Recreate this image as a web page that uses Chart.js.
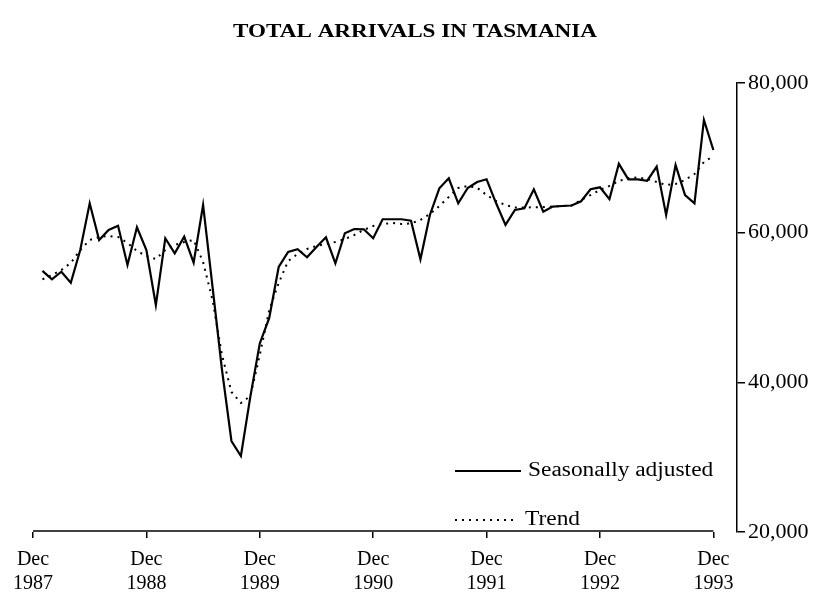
<!DOCTYPE html>
<html><head><meta charset="utf-8">
<script src="https://cdn.jsdelivr.net/npm/chart.js@4.4.0/dist/chart.umd.min.js"></script>
<style>html,body{margin:0;padding:0;background:#fff}#wrap{width:820px;height:598px}</style>
</head><body><div id="wrap"><canvas id="c" width="820" height="598"></canvas></div>
<script>
const titleText = 'TOTAL ARRIVALS IN TASMANIA';
const seriesNames = ['Seasonally adjusted', 'Trend'];
// month index counted from Dec 1987 (= 0); first observation is Jan 1988
const firstMonth = 1;
const seasonallyAdjusted = [
  54900,53770,54780,53310,57680,63920,59020,60360,60930,55680,60720,57680,
  50330,59250,57240,59460,55990,63700,52740,41650,32160,30160,38080,45200,
  48600,55410,57420,57780,56710,58090,59380,55910,59920,60490,60450,59250,
  61790,61790,61790,61600,56440,62360,65930,67270,63920,65970,66770,67130,
  63960,61030,63030,63260,65800,62800,63480,63560,63630,64200,65800,66060,
  64480,69200,67130,67130,66940,68820,62360,69040,65030,63920,75060,71050
];
const trend = [
  53770,54340,55010,55950,57680,59020,59420,59550,59420,58620,57550,56880,
  56480,57680,58350,58750,59020,56080,51000,43650,38710,37240,38170,43650,
  49670,53270,56210,57150,57820,58220,58490,58760,59150,59690,60360,60890,
  61160,61290,61160,61230,61690,62490,63560,64770,65970,66240,66000,65030,
  64230,63700,63360,63360,63390,63430,63500,63560,63630,64370,65030,65700,
  66240,66900,67300,67370,67170,66770,66370,66500,67040,67840,69440,70250
];
const tickMonths = [0, 12, 24, 36, 48, 60, 72];
const tickMonthName = 'Dec';
const tickYears = ['1987', '1988', '1989', '1990', '1991', '1992', '1993'];
const yTicks = [20000, 40000, 60000, 80000];

const SERIF = '"Liberation Serif","Times New Roman",serif';
const toPoints = arr => arr.map((v, i) => ({ x: firstMonth + i, y: v }));

const decor = {
  id: 'decor',
  afterDraw(chart) {
    const ctx = chart.ctx;
    const xs = chart.scales.x;
    const area = chart.chartArea;
    ctx.save();
    // x axis line between first and last tick
    ctx.strokeStyle = '#000';
    ctx.lineWidth = 1.5;
    ctx.beginPath();
    ctx.moveTo(xs.getPixelForValue(tickMonths[0]), area.bottom - 1);
    ctx.lineTo(xs.getPixelForValue(tickMonths[tickMonths.length - 1]), area.bottom - 1);
    ctx.stroke();

    // title
    ctx.fillStyle = '#000';
    ctx.font = 'bold 19px ' + SERIF;
    ctx.textAlign = 'center';
    ctx.textBaseline = 'middle';
    let w = ctx.measureText(titleText).width;
    ctx.save();
    ctx.translate(415, 32);
    ctx.scale(364 / w, 1);
    ctx.fillText(titleText, 0, 0);
    ctx.restore();

    // legend
    const rows = [471, 520];
    chart.data.datasets.forEach((ds, i) => {
      const y = rows[i];
      ctx.save();
      ctx.strokeStyle = ds.borderColor;
      ctx.lineWidth = ds.borderWidth;
      ctx.setLineDash(ds.borderDash || []);
      ctx.beginPath();
      ctx.moveTo(455, y);
      ctx.lineTo(i === 0 ? 521 : 513, y);
      ctx.stroke();
      ctx.restore();
      ctx.save();
      ctx.font = '20px ' + SERIF;
      ctx.textAlign = 'left';
      ctx.textBaseline = 'middle';
      ctx.translate(i === 0 ? 528 : 525, y);
      ctx.scale(1.17, 1);
      ctx.fillText(ds.label, 0, 0);
      ctx.restore();
    });
    ctx.restore();
  }
};

new Chart(document.getElementById('c'), {
  type: 'line',
  data: {
    datasets: [
      { label: seriesNames[0], data: toPoints(seasonallyAdjusted), borderColor: '#000', borderWidth: 2.2,
        pointRadius: 0, tension: 0, fill: false },
      { label: seriesNames[1], data: toPoints(trend), borderColor: '#000', borderWidth: 2,
        borderDash: [2, 5], pointRadius: 0, tension: 0, fill: false }
    ]
  },
  options: {
    responsive: false,
    animation: false,
    devicePixelRatio: 1,
    layout: { padding: { top: 83, left: 33, right: 0, bottom: 0 } },
    plugins: { legend: { display: false }, title: { display: false }, tooltip: { enabled: false } },
    scales: {
      x: {
        type: 'linear', min: 0, max: 74.5,
        afterBuildTicks: s => { s.ticks = tickMonths.map(v => ({ value: v })); },
        afterFit: s => { s.height = 66; },
        grid: { drawOnChartArea: false, drawTicks: true, tickLength: 6, color: '#000', lineWidth: 1.5 },
        border: { display: false },
        ticks: {
          padding: 10, color: '#000', maxRotation: 0, autoSkip: false,
          font: { family: SERIF, size: 20, lineHeight: 1.2 },
          callback: v => { const i = tickMonths.indexOf(v); return i < 0 ? '' : [tickMonthName, tickYears[i]]; }
        }
      },
      y: {
        position: 'right', min: 20000, max: 80000,
        afterBuildTicks: s => { s.ticks = yTicks.map(v => ({ value: v })); },
        afterFit: s => { s.width = 83; },
        grid: { drawOnChartArea: false, tickLength: 8, color: '#000', lineWidth: 1.5 },
        border: { display: true, color: '#000', width: 1.5 },
        ticks: { padding: 3, color: '#000', font: { family: SERIF, size: 22 },
          callback: v => v.toLocaleString('en-US') }
      }
    }
  },
  plugins: [decor]
});
</script>
</body></html>
